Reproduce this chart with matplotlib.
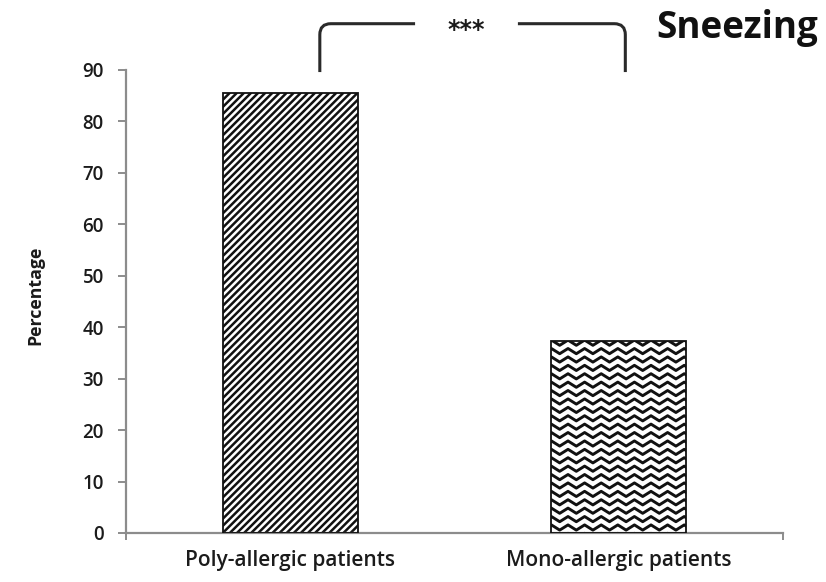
import numpy as np
import matplotlib
matplotlib.use("Agg")
import matplotlib.pyplot as plt
from matplotlib.path import Path
from matplotlib.patches import PathPatch
from matplotlib.transforms import IdentityTransform
from matplotlib.collections import LineCollection

# ---- data ----
categories = ["Poly-allergic patients", "Mono-allergic patients"]
percentages = [85.6, 37.3]
y_ticks = [0, 10, 20, 30, 40, 50, 60, 70, 80, 90]
title = "Sneezing"
y_label = "Percentage"
signif_label = "***"

plt.rcParams["font.family"] = ["Open Sans", "DejaVu Sans"]
TEXT = "#1b1b1b"
AXIS = "#8c8c8c"

W, H = 826, 582
fig = plt.figure(figsize=(W / 100, H / 100), dpi=100)
ax = fig.add_axes([126 / W, 1 - 533 / H, (783 - 126) / W, (533 - 70) / H])

x = np.arange(len(categories))
bars = ax.bar(x, percentages, width=0.41, facecolor="white",
              edgecolor="#111111", linewidth=1.3, zorder=3)

ax.set_xlim(-0.5, len(categories) - 0.5)
ax.set_ylim(0, 90)

for side in ("top", "right"):
    ax.spines[side].set_visible(False)
for side in ("left", "bottom"):
    ax.spines[side].set_color(AXIS)
    ax.spines[side].set_linewidth(1.6)

ax.set_yticks(y_ticks)
ax.set_yticklabels([str(t) for t in y_ticks], fontweight="semibold")
ax.tick_params(axis="y", length=6, width=1.4, color=AXIS, pad=10,
               labelsize=13.5, labelcolor=TEXT)
ax.set_xticks(x)
ax.set_xticklabels(categories, fontweight="semibold")
ax.tick_params(axis="x", length=0, pad=12, labelsize=15, labelcolor=TEXT)
ax.set_xticks([-0.5, len(categories) - 0.5], minor=True)
ax.tick_params(axis="x", which="minor", length=5, width=1.4, color=AXIS)

ax.set_ylabel(y_label, fontsize=12.8, color=TEXT, fontweight="bold")
ax.yaxis.set_label_coords(-0.124, 0.514)

fig.canvas.draw()
to_px = ax.transData.transform


def bar_box(rect):
    (x0, y0), (x1, y1) = to_px([(rect.get_x(), rect.get_y()),
                                (rect.get_x() + rect.get_width(),
                                 rect.get_y() + rect.get_height())])
    return x0, y0, x1, y1


# diagonal hatching on the first bar
r0 = bars[0]
x0, y0, x1, y1 = bar_box(r0)
step = 7.1
segs = []
c = x0 - (y1 - y0)
while c < x1 + 2:
    segs.append([(c, y0), (c + (y1 - y0), y1)])
    c += step
lc = LineCollection(segs, colors="#111111", linewidths=1.8,
                    transform=IdentityTransform(), zorder=2.5)
ax.add_collection(lc, autolim=False)
lc.set_clip_path(r0)

# zigzag hatching on the second bar
r1 = bars[1]
x0, y0, x1, y1 = bar_box(r1)
period, amp, row = 16.6, 5.2, 8.4
xs = np.arange(x0 - period, x1 + period, period / 2)
offs = np.where(np.arange(len(xs)) % 2 == 0, 0.0, amp)
segs = []
yy = y1 + 1.0
while yy > y0 - amp:
    segs.append(np.column_stack([xs, yy - offs]))
    yy -= row
lc2 = LineCollection(segs, colors="#111111", linewidths=2.1,
                     transform=IdentityTransform(), zorder=2.5)
ax.add_collection(lc2, autolim=False)
lc2.set_clip_path(r1)

# bars drawn unfilled on top so the outlines sit above the hatching
for b in bars:
    b.set_facecolor("none")

# significance bracket
bx_left, bx_right = 0.09, 1.02
gap_left, gap_right = 0.38, 0.693
by_low, by_high = 89.6, 99.0
(lx, ly), (rx, _), (glx, hy), (grx, _) = to_px(
    [(bx_left, by_low), (bx_right, by_low), (gap_left, by_high), (gap_right, by_high)])
rad = 11
codes = [Path.MOVETO, Path.LINETO, Path.CURVE3, Path.CURVE3, Path.LINETO]
left = Path([(lx, ly), (lx, hy - rad), (lx, hy), (lx + rad, hy), (glx, hy)], codes)
right = Path([(rx, ly), (rx, hy - rad), (rx, hy), (rx - rad, hy), (grx, hy)], codes)
for p in (left, right):
    fig.add_artist(PathPatch(p, facecolor="none", edgecolor="#2a2a2a",
                             linewidth=2.2, transform=IdentityTransform(),
                             capstyle="butt"))
sx = (glx + grx) / 2
fig.text(sx / W, (hy - 13) / H, signif_label, ha="center", va="baseline",
         fontsize=17, fontweight="bold", color="#1b1b1b",
         family=["DejaVu Sans"])

fig.text(818 / W, 1 - 28 / H, title, ha="right", va="center",
         fontsize=26.5, fontweight="bold", color="#111111")

fig.savefig("out.png", dpi=100)
